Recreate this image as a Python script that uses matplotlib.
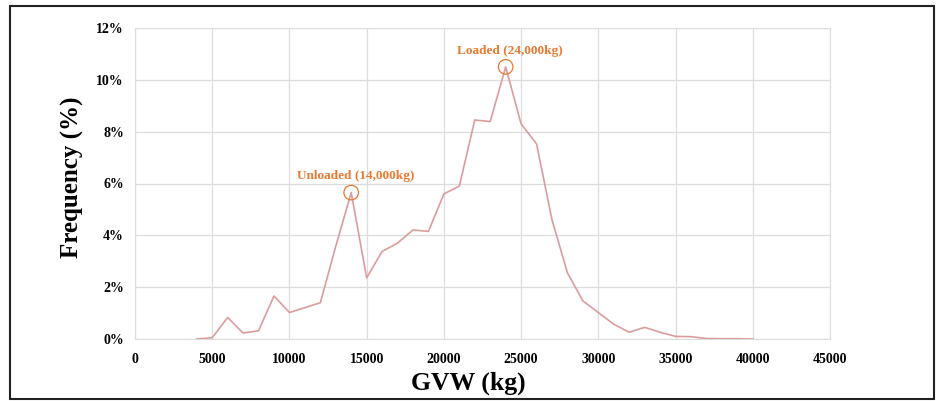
import matplotlib.pyplot as plt
from matplotlib.patches import Rectangle

# GVW distribution (kg, % frequency)
gvw = [4000, 5000, 6000, 7000, 8000, 9000, 10000, 11000, 12000, 13000,
       14000, 15000, 16000, 17000, 18000, 19000, 20000, 21000, 22000, 23000,
       24000, 25000, 26000, 27000, 28000, 29000, 30000, 31000, 32000, 33000,
       34000, 35000, 36000, 37000, 38000, 39000, 40000]
freq = [0.0, 0.05, 0.83, 0.23, 0.32, 1.66, 1.02, 1.21, 1.4, 3.58,
        5.65, 2.36, 3.38, 3.7, 4.21, 4.15, 5.6, 5.9, 8.45, 8.39,
        10.5, 8.3, 7.53, 4.6, 2.55, 1.47, 1.02, 0.57, 0.26, 0.45,
        0.26, 0.1, 0.09, 0.02, 0.01, 0.01, 0.0]

peak_x = [14000, 24000]
peak_y = [5.65, 10.5]
peak_labels = ["Unloaded (14,000kg)", "Loaded (24,000kg)"]

xticks = list(range(0, 45001, 5000))
yticks = [0, 2, 4, 6, 8, 10, 12]

line_color = '#dc9c9c'
note_color = '#e8782e'
serif = ['Liberation Serif', 'DejaVu Serif']

fig = plt.figure(figsize=(9.39, 4.01), dpi=100)
ax = fig.add_axes([135/939, 1 - 339/401, (830 - 135)/939, (339 - 28)/401])

ax.plot(gvw, freq, color=line_color, lw=1.2, zorder=3, solid_joinstyle='round')
ax.scatter(peak_x, peak_y, s=110, facecolors='none', edgecolors=note_color,
           linewidths=0.9, zorder=4)
for px, py, lab in zip(peak_x, peak_y, peak_labels):
    ax.text(px + 300, py + 0.4, lab, color=note_color, fontsize=9.5, weight='bold',
            family=serif, ha='center', va='bottom')

ax.set_xlim(0, 45000)
ax.set_ylim(0, 12)
ax.set_xticks(xticks)
ax.set_yticks(yticks)
ax.set_xticklabels([str(v) for v in xticks])
ax.set_yticklabels([f"{v}%" for v in yticks])
for lab in ax.get_xticklabels() + ax.get_yticklabels():
    lab.set_family(serif)
    lab.set_weight('bold')
    lab.set_fontsize(10)
ax.tick_params(axis='x', length=0, pad=10)
ax.tick_params(axis='y', length=0, pad=8)
ax.grid(True, color='#dddddd', lw=0.9)
ax.set_axisbelow(True)
for sp in ax.spines.values():
    sp.set_color('#dddddd')

ax.set_xlabel("GVW (kg)", family=serif, weight='bold', fontsize=18.5)
ax.set_ylabel("Frequency (%)", family=serif, weight='bold', fontsize=18)
ax.xaxis.set_label_coords(0.48, -0.105)
ax.yaxis.set_label_coords(-0.073, 0.52)

# outer frame around the figure
fig.patches.append(Rectangle((10/939, 1 - 399/401), (934 - 10)/939, (399 - 6)/401,
                             transform=fig.transFigure, fill=False,
                             edgecolor='#222222', lw=1.5))

fig.savefig("out.png", dpi=100)
